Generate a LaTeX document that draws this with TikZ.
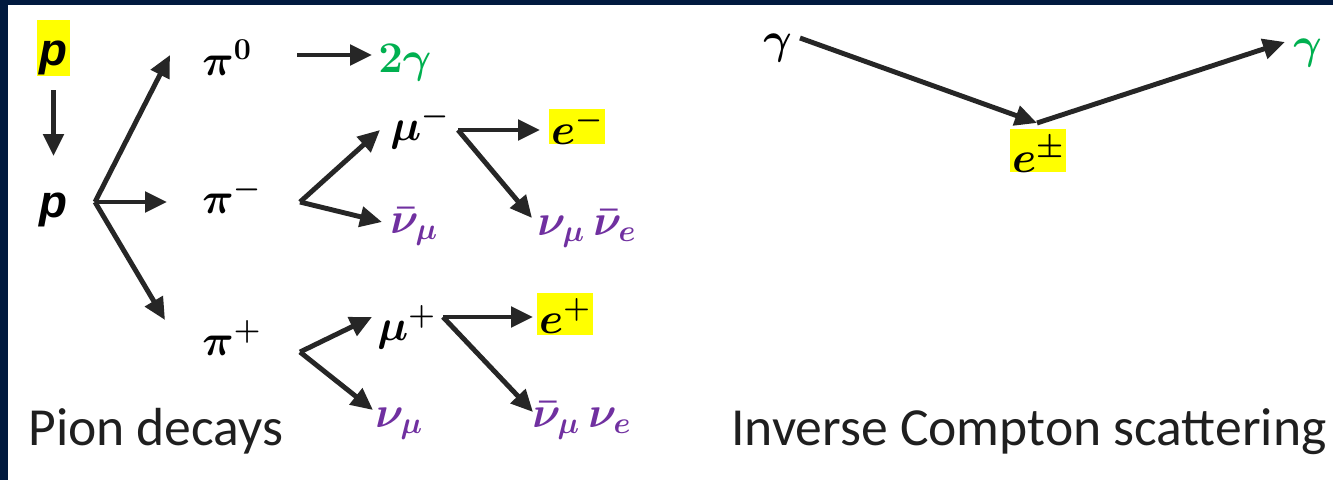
\documentclass[tikz,border=0pt]{standalone}
\usepackage[no-math]{fontspec}
\usepackage{amsmath,bm}
\setmainfont{Carlito}
\newfontfamily\protonfont{Liberation Sans}
\usetikzlibrary{arrows.meta,positioning}
\definecolor{navy}{HTML}{011A3F}
\definecolor{ink}{HTML}{262626}
\definecolor{phgreen}{HTML}{00B050}
\definecolor{nupurple}{HTML}{7030A0}
\definecolor{hilite}{HTML}{FFFF00}
\tikzset{
  part/.style   ={inner sep=0pt,anchor=base west,text=black,font=\fontsize{25}{30}\selectfont\mathversion{bold}},
  nu/.style     ={part,text=nupurple},
  hl/.style     ={fill=hilite,inner xsep=1pt,inner ysep=0pt},
  proton/.style ={inner sep=0pt,anchor=base,font=\protonfont\bfseries\itshape\fontsize{26}{30}\selectfont},
  caption/.style={inner sep=0pt,anchor=base west,text=black!88,font=\fontsize{30.5}{36}\selectfont},
  decay/.style  ={-{Triangle[length=4.4mm,width=4mm]},line width=2.8pt,draw=ink}
}
\begin{document}
\begin{tikzpicture}
  \useasboundingbox (0,0) rectangle (26.66,-9.6);
  \fill[navy] (0,0) rectangle (26.66,-9.6);
  \fill[white] (0.16,-0.1) rectangle (26.66,-9.6);
  % proton -> pions
  \node[proton,fill=hilite,minimum width=6.6mm] (pin) at (1.07,-1.30) {\rule[-2.2mm]{0pt}{11.2mm}p};
  \node[proton] (pout) at (1.07,-4.34) {p};
  \draw[decay,shorten <=2.8mm,shorten >=7.2mm] (pin) -- (pout);
  \coordinate (pv) at (1.90,-4.04);
  \coordinate (to-pi0) at (3.40,-1.10);
  \coordinate (to-pim) at (3.34,-4.04);
  \coordinate (to-pip) at (3.30,-6.40);
  \node[part] (pi0) at (4.04,-1.50) {$\bm{\pi^0}$};
  \node[part] (pim) at (4.04,-4.26) {$\bm{\pi^-}$};
  \node[part] (pip) at (4.04,-7.10) {$\bm{\pi^+}$};
  \draw[decay] (pv) -- (to-pi0);
  \draw[decay] (pv) -- (to-pim);
  \draw[decay] (pv) -- (to-pip);
  % neutral pion
  \node[part,text=phgreen] (gg) at (7.56,-1.44) {$\bm{2\gamma}$};
  \draw[decay] (5.94,-1.10) coordinate (from-pi0) -- (7.44,-1.10) coordinate (to-gg);
  % negative pion
  \coordinate (mv) at (6.00,-4.04);
  \node[part] (mum) at (7.80,-2.80) {$\bm{\mu^-}$};
  \node[nu] (nubm) at (7.80,-4.66) {$\bm{\bar\nu_\mu}$};
  \draw[decay] (mv) -- (7.60,-2.60) coordinate (to-mum);
  \draw[decay] (mv) -- (7.64,-4.44) coordinate (to-nubm);
  \coordinate (mmv) at (9.16,-2.60);
  \node[part,hl] (em) at (10.98,-2.88) {\rule[0.1mm]{0pt}{5.2mm}$\bm{e^-}$};
  \node[nu] (nnm) at (10.74,-4.70) {$\bm{\nu_\mu\,\bar\nu_e}$};
  \draw[decay] (mmv) -- (10.80,-2.60) coordinate (to-em);
  \draw[decay] (mmv) -- (10.64,-4.36) coordinate (to-nnm);
  % positive pion
  \coordinate (pp) at (6.00,-7.04);
  \node[part] (mup) at (7.54,-6.80) {$\bm{\mu^+}$};
  \node[nu] (nump) at (7.50,-8.54) {$\bm{\nu_\mu}$};
  \draw[decay] (pp) -- (7.44,-6.34) coordinate (to-mup);
  \draw[decay] (pp) -- (7.46,-8.20) coordinate (to-nump);
  \coordinate (mpv) at (8.86,-6.34);
  \node[part,hl] (ep) at (10.74,-6.66) {\rule[-0.4mm]{0pt}{8.4mm}$\bm{e^+}$};
  \node[nu] (nnp) at (10.64,-8.54) {$\bm{\bar\nu_\mu\,\nu_e}$};
  \draw[decay] (mpv) -- (10.66,-6.34) coordinate (to-ep);
  \draw[decay] (mpv) -- (10.66,-8.24) coordinate (to-nnp);
  \node[caption] (pion) at (0.56,-8.90) {Pion decays};
  % inverse Compton
  \node[part] (gin) at (15.26,-1.06) {$\bm{\gamma}$};
  \node[part,hl] (epm) at (20.20,-3.44) {\rule[-0.06mm]{0pt}{8.6mm}$\bm{e^{\pm}}$};
  \node[part,text=phgreen] (gout) at (25.86,-1.16) {$\bm{\gamma}$};
  \coordinate (ic) at (20.74,-2.46);
  \draw[decay] (16.00,-0.76) coordinate (from-gin) -- (ic);
  \draw[decay] (ic) -- (25.70,-0.84) coordinate (to-gout);
  \node[caption] (compton) at (14.62,-8.90) {Inverse Compton scattering};
\end{tikzpicture}
\end{document}
